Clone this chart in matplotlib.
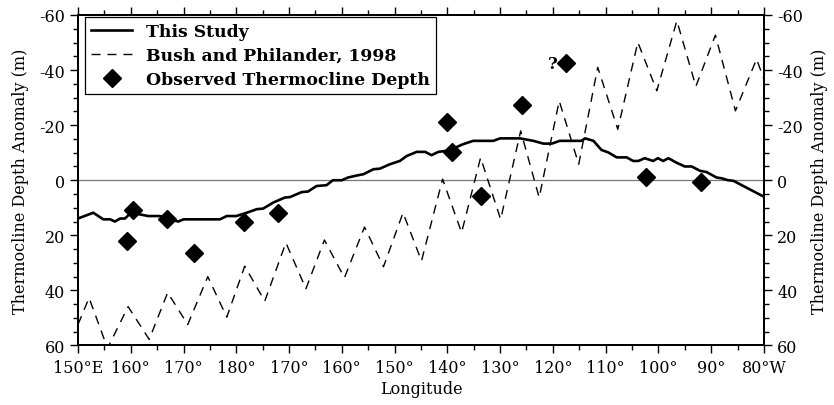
import matplotlib
matplotlib.use("Agg")
from matplotlib import pyplot as plt

plt.rcParams['font.family'] = ['DejaVu Serif']
plt.rcParams['axes.unicode_minus'] = False

# longitude in degrees east (150E .. 280 = 80W), depth anomaly in m
study_lon = [150, 152.9, 154.8, 156.1, 157, 158, 158.9, 160.2, 161.7, 163.3, 165.5,
             167.4, 169, 170, 176.9, 178.2, 180, 182, 183.9, 185.1, 187, 189.2,
             190.2, 192.4, 193.6, 195.2, 197.1, 198.3, 200, 201.2, 202.8, 204.1,
             206, 207.2, 209.1, 211, 212.3, 214.2, 215.8, 217, 218.3, 219.9, 221.1,
             223, 224.9, 228.7, 230, 233.8, 236.3, 238.2, 239.8, 241.3, 245.4,
             246.1, 247.7, 249.2, 250.5, 252.1, 254, 255.2, 256.2, 257.4, 259,
             259.9, 260.9, 261.9, 263.4, 265, 266.3, 267.9, 269.1, 271, 272,
             273.2, 274.2, 280]
study_dep = [13.9, 11.8, 14.2, 14.2, 15, 13.9, 13.9, 11.5, 12.4, 13, 13,
             14.2, 15, 14.2, 14.2, 13, 13, 11.8, 10.5, 10.3, 8.1, 6.3,
             6.1, 4.3, 4.1, 2.1, 1.8, 0, 0, -1, -1.7, -2.2,
             -4, -4.2, -5.8, -7, -8.8, -10.3, -10.3, -9.1, -10.3, -10.7, -11.5,
             -13.1, -14.3, -14.3, -15.2, -15.2, -14.3, -13.3, -13.3, -14.3, -14.3,
             -15.2, -14.3, -11, -10.1, -8.3, -8.3, -7, -7, -8, -7,
             -8, -7, -8, -6.4, -5, -5, -3.4, -3, -1, -0.7,
             0, 0.2, 6]

bush_lon = [150, 152.1, 155.6, 159.5, 163.5, 167.0, 170.8, 174.6, 178.2, 181.6,
            185.4, 189.4, 193.2, 196.7, 200.5, 204.3, 207.9, 211.6, 215.1, 219.1,
            222.7, 226.3, 230.1, 233.9, 237.4, 241.2, 244.9, 248.5, 252.3, 256.1,
            259.7, 263.5, 267.1, 270.8, 274.6, 278.6, 280]
bush_dep = [52.4, 42.7, 61, 45.9, 57.8, 40.8, 52.4, 35.0, 49.7, 31.2,
            43.9, 22.7, 39.4, 21.7, 35.4, 17.0, 31.4, 11.8, 29.3, -0.4,
            19.0, -8.2, 14.2, -17.9, 6.3, -28.8, -5.8, -41, -18.5, -50.1,
            -32.5, -57.9, -34.1, -52.7, -25.2, -44, -36.7]

obs_lon = [159.2, 160.5, 166.8, 172.0, 181.5, 188.0, 220.0, 220.8, 226.3, 234.1,
           242.4, 257.6, 268.1]
obs_dep = [22.1, 10.8, 14.2, 26.3, 15.2, 12.0, -21.3, -10.1, 5.7, -27.4,
           -42.5, -1.0, 0.8]

xticks = list(range(150, 281, 10))
xlabels = ['150°E', '160°', '170°', '180°', '170°', '160°', '150°', '140°',
           '130°', '120°', '110°', '100°', '90°', '80°W']
yticks = [-60, -40, -20, 0, 20, 40, 60]

fig = plt.figure(figsize=(8.34, 4.06), dpi=100)
ax = fig.add_axes([0.0935, 0.1466, 0.8225, 0.814])

ax.axhline(0, color='#777777', lw=0.9, zorder=1)
ax.plot(study_lon, study_dep, color='black', lw=1.9, label='This Study', zorder=3)
ax.plot(bush_lon, bush_dep, color='black', lw=1.0, dashes=(6.5, 5),
        label='Bush and Philander, 1998', zorder=2)
ax.plot(obs_lon, obs_dep, ls='none', marker='D', ms=9, color='black',
        label='Observed Thermocline Depth', zorder=4)
ax.text(240.9, -42.5, '?', fontsize=12, fontweight='bold', ha='right', va='center')

ax.set_xlim(150, 280)
ax.set_ylim(60, -60)
ax.set_xticks(xticks)
ax.set_xticklabels(xlabels)
ax.set_xticks(list(range(155, 280, 10)), minor=True)
ax.set_yticks(yticks)
ax.set_yticks(list(range(-55, 60, 5)), minor=True)
ax.tick_params(which='both', direction='out', labelsize=11.5, top=True,
               width=1, colors='black', pad=4)
ax.tick_params(which='major', length=5.5)
ax.tick_params(which='minor', length=3.5)
for s in ax.spines.values():
    s.set_linewidth(1.4)
ax.set_xlabel('Longitude', fontsize=11.5, labelpad=3)
ax.set_ylabel('Thermocline Depth Anomaly (m)', fontsize=11.5, labelpad=7)

ax2 = ax.twinx()
ax2.set_ylim(60, -60)
ax2.set_yticks(yticks)
ax2.set_yticks(list(range(-55, 60, 5)), minor=True)
ax2.tick_params(which='both', direction='out', labelsize=11.5, width=1, pad=4)
ax2.tick_params(which='major', length=5.5)
ax2.tick_params(which='minor', length=3.5)
ax2.set_ylabel('Thermocline Depth Anomaly (m)', fontsize=11.5, rotation=90, labelpad=6)
for s in ax2.spines.values():
    s.set_linewidth(1.4)

leg = ax.legend(loc='upper left', bbox_to_anchor=(0.0102, 0.994), borderaxespad=0,
                fancybox=False, frameon=True, edgecolor='black', framealpha=1,
                prop={'weight': 'bold', 'size': 12.4}, handlelength=2.4,
                labelspacing=0.4, borderpad=0.35, handletextpad=0.8)
leg.get_frame().set_linewidth(0.9)

fig.savefig('out.png', dpi=100)
